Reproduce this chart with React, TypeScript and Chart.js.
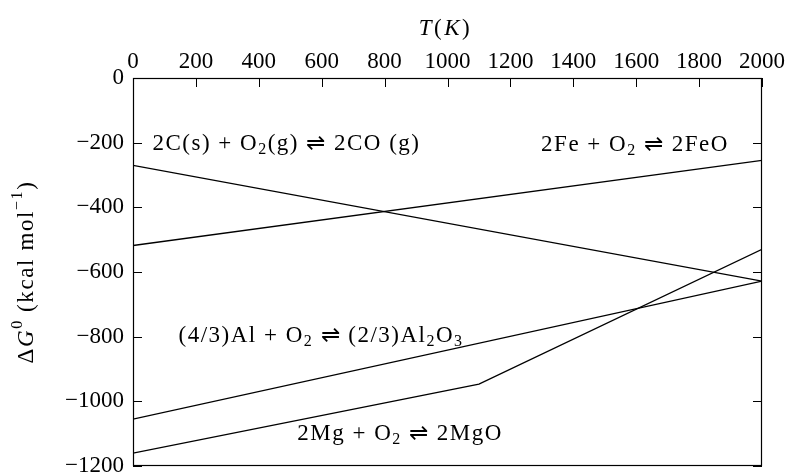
import React, { useEffect, useRef } from "react";
import { Chart, registerables } from "chart.js";

Chart.register(...registerables);

// ---- data ----
const temperatures = [0, 2000];
const coValues = [-270, -628];
const feValues = [-518, -255];
const alValues = [-1055, -628];
const mgTemperatures = [0, 1100, 2000];
const mgValues = [-1160, -947, -530];

const xTickValues = [0, 200, 400, 600, 800, 1000, 1200, 1400, 1600, 1800, 2000];
const yTickValues = [0, -200, -400, -600, -800, -1000, -1200];

// rich text segments: [text, style]  style: n=normal, i=italic, b=subscript, p=superscript
type Seg = [string, string];
const labelSegments: Seg[][] = [
  [["2C(s) + O", "n"], ["2", "b"], ["(g) ⇌ 2CO (g)", "n"]],
  [["2Fe + O", "n"], ["2", "b"], [" ⇌ 2FeO", "n"]],
  [["(4/3)Al + O", "n"], ["2", "b"], [" ⇌ (2/3)Al", "n"], ["2", "b"], ["O", "n"], ["3", "b"]],
  [["2Mg + O", "n"], ["2", "b"], [" ⇌ 2MgO", "n"]],
];
// anchor (T, ΔG) of each label's baseline centre
const labelT = [488, 1596, 598, 849];
const labelG = [-223, -226, -816, -1119];

const xTitle: Seg[] = [["T", "i"], ["(", "n"], ["K", "i"], [")", "n"]];
const yTitle: Seg[] = [["Δ", "n"], ["G", "i"], ["0", "p"], [" (kcal mol", "n"], ["−1", "p"], [")", "n"]];

const FONT = "'Liberation Serif', 'Times New Roman', serif";
const FS = 23;
const SMALL = 16;

const minus = (v: number) => (v < 0 ? "\u2212" + String(Math.abs(v)) : String(v));

function fontFor(style: string) {
  if (style === "i") return `italic ${FS}px ${FONT}`;
  if (style === "b" || style === "p") return `${SMALL}px ${FONT}`;
  return `${FS}px ${FONT}`;
}

function drawRich(ctx: any, segs: Seg[], cx: number, cy: number, spacing: number) {
  ctx.letterSpacing = `${spacing}px`;
  const widths = segs.map(([t, s]) => {
    ctx.font = fontFor(s);
    return ctx.measureText(t).width;
  });
  const total = widths.reduce((a, b) => a + b, 0);
  let x = cx - total / 2;
  segs.forEach(([t, s], j) => {
    ctx.font = fontFor(s);
    const dy = s === "b" ? 4 : s === "p" ? -9 : 0;
    ctx.fillText(t, x, cy + dy);
    x += widths[j];
  });
  ctx.letterSpacing = "0px";
}

const framePlugin = {
  id: "frameAndLabels",
  afterDatasetsDraw(chart: any) {
    const { ctx, chartArea, scales } = chart;
    const { left, right, top, bottom } = chartArea;
    ctx.save();
    ctx.strokeStyle = "#000";
    ctx.lineWidth = 1.2;
    ctx.strokeRect(left + 0.5, top + 0.5, right - left - 1, bottom - top - 1);
    const tl = 9;
    ctx.lineWidth = 1;
    ctx.beginPath();
    scales.x.ticks.forEach((t: any) => {
      const px = Math.round(scales.x.getPixelForValue(t.value)) + 0.5;
      ctx.moveTo(px, top);
      ctx.lineTo(px, top + tl);
    });
    scales.y.ticks.forEach((t: any) => {
      const py = Math.round(scales.y.getPixelForValue(t.value)) + 0.5;
      ctx.moveTo(left, py);
      ctx.lineTo(left + tl, py);
      ctx.moveTo(right, py);
      ctx.lineTo(right - tl, py);
    });
    ctx.stroke();

    ctx.fillStyle = "#000";
    ctx.textBaseline = "alphabetic";
    ctx.textAlign = "left";
    labelSegments.forEach((segs, i) => {
      drawRich(ctx, segs, scales.x.getPixelForValue(labelT[i]), scales.y.getPixelForValue(labelG[i]), 1.5);
    });

    // axis titles
    ctx.textBaseline = "middle";
    drawRich(ctx, xTitle, (left + right) / 2 - 2, scales.x.top + 29, 2.5);
    ctx.save();
    ctx.translate(scales.y.left + 27, (top + bottom) / 2);
    ctx.rotate(-Math.PI / 2);
    drawRich(ctx, yTitle, 0, 0, 1.6);
    ctx.restore();
    ctx.restore();
  },
};

export default function App() {
  const canvasRef = useRef<HTMLCanvasElement | null>(null);

  useEffect(() => {
    document.body.style.margin = "0";
    const canvas = canvasRef.current;
    if (!canvas) return;
    const mk = (xs: number[], ys: number[]) => xs.map((x, i) => ({ x, y: ys[i] }));
    const lineStyle = {
      showLine: true,
      borderColor: "#000",
      backgroundColor: "#000",
      borderWidth: 1.3,
      pointRadius: 0,
      tension: 0,
      fill: false,
    };
    const chart = new Chart(canvas, {
      type: "scatter",
      data: {
        datasets: [
          { label: "2C(s) + O2(g) ⇌ 2CO (g)", data: mk(temperatures, coValues), ...lineStyle },
          { label: "2Fe + O2 ⇌ 2FeO", data: mk(temperatures, feValues), ...lineStyle },
          { label: "(4/3)Al + O2 ⇌ (2/3)Al2O3", data: mk(temperatures, alValues), ...lineStyle },
          { label: "2Mg + O2 ⇌ 2MgO", data: mk(mgTemperatures, mgValues), ...lineStyle },
        ],
      },
      options: {
        animation: false,
        responsive: true,
        maintainAspectRatio: false,
        layout: { padding: { left: 0, top: 0, right: 25, bottom: 6 } },
        plugins: { legend: { display: false }, tooltip: { enabled: false } },
        font: { family: FONT },
        scales: {
          x: {
            type: "linear",
            position: "top",
            min: 0,
            max: 2000,
            afterBuildTicks: (s: any) => {
              s.ticks = xTickValues.map((v) => ({ value: v }));
            },
            ticks: {
              color: "#000",
              padding: 2,
              maxRotation: 0,
              autoSkip: false,
              font: { family: FONT, size: FS },
              callback: (v: any) => minus(Number(v)),
            },
            grid: { display: false, drawTicks: false },
            border: { display: false },
            title: { display: false, text: "T(K)" },
            afterFit: (s: any) => {
              s.height = 78;
              s.paddingLeft = 0;
              s.paddingRight = 0;
            },
          },
          y: {
            type: "linear",
            position: "left",
            min: -1200,
            max: 0,
            afterBuildTicks: (s: any) => {
              s.ticks = yTickValues.map((v) => ({ value: v }));
            },
            ticks: {
              color: "#000",
              padding: 9,
              autoSkip: false,
              font: { family: FONT, size: FS },
              callback: (v: any) => minus(Number(v)),
            },
            grid: { display: false, drawTicks: false },
            border: { display: false },
            title: { display: false, text: "ΔG⁰ (kcal mol⁻¹)" },
            afterFit: (s: any) => {
              s.width = 133;
              s.paddingTop = 0;
              s.paddingBottom = 0;
            },
          },
        },
      } as any,
      plugins: [framePlugin],
    });
    return () => chart.destroy();
  }, []);

  return (
    <div
      style={{
        position: "fixed",
        left: 0,
        top: 0,
        width: 787,
        height: 472,
        background: "#fff",
      }}
    >
      <canvas ref={canvasRef} />
    </div>
  );
}
